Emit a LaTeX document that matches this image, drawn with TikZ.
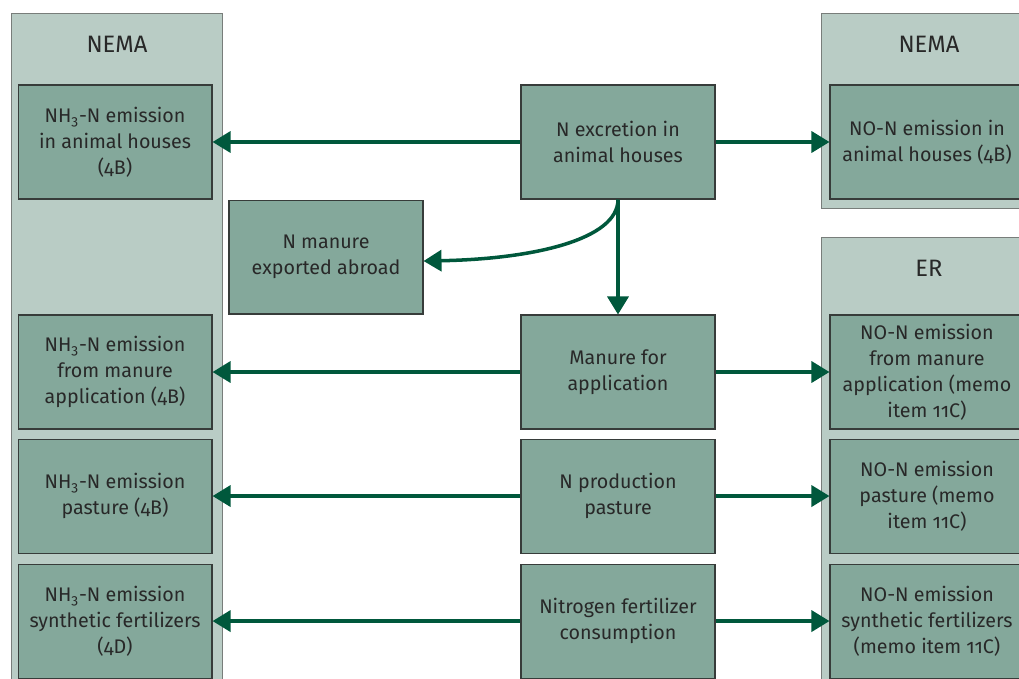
\documentclass[tikz,border=0pt]{standalone}
\usepackage{fontspec}
\setmainfont[Numbers=OldStyle]{Fira Sans}
\usepackage{tikz}
\usetikzlibrary{
  arrows.meta,
  positioning, backgrounds
}
\definecolor{panelfill}{RGB}{185,204,197}
\definecolor{panelline}{RGB}{120,125,122}
\definecolor{boxfill}{RGB}{132,168,155}
\definecolor{boxline}{RGB}{55,60,58}
\definecolor{arrgreen}{RGB}{0,88,60}
\definecolor{txtgrey}{RGB}{40,40,40}
\tikzset{
  boxnode/.style={rectangle,fill=boxfill,draw=boxline,line width=0.6pt,
    minimum width=3.88cm,minimum height=2.28cm,inner sep=0pt,align=center,
    text=txtgrey,font=\fontsize{11.2}{14.8}\selectfont},
  panelnode/.style={rectangle,fill=panelfill,draw=panelline,line width=0.6pt,inner sep=0pt},
  panellabel/.style={anchor=center,yshift=-0.62cm,text=txtgrey,font=\fontsize{13.5}{16}\selectfont},
  arr/.style={-{Triangle[length=0.36cm,width=0.42cm]},line width=2pt,draw=arrgreen}
}

\begin{document}
\begin{tikzpicture}[x=0.02cm,y=-0.02cm]

  \clip (0,0) rectangle (1019,679);
  \useasboundingbox (0,0) rectangle (1019,679);

  % Source column
  \node[boxnode] (excr) at (618,142) {N excretion in\\animal houses};
  \node[boxnode,below left=0cm and 1.94cm of excr] (exported) {N manure\\exported abroad};
  \node[boxnode,below=2.3cm of excr] (manapp) {Manure for\\application};
  \node[boxnode,below=0.18cm of manapp] (npast) {N production\\pasture};
  \node[boxnode,below=0.2cm of npast] (nfert) {Nitrogen fertilizer\\consumption};

  % NEMA (left)
  \node[boxnode,left=6.16cm of excr] (nhhouse) {NH\textsubscript{3}-N emission\\in animal houses\\(4B)};
  \node[boxnode,left=6.16cm of manapp] (nhmanure) {NH\textsubscript{3}-N emission\\from manure\\application (4B)};
  \node[boxnode,left=6.16cm of npast] (nhpast) {NH\textsubscript{3}-N emission\\pasture (4B)};
  \node[boxnode,left=6.16cm of nfert] (nhfert) {NH\textsubscript{3}-N emission\\synthetic fertilizers\\(4D)};

  % NEMA and ER (right)
  \node[boxnode,right=2.28cm of excr] (nohouse) {NO-N emission in\\animal houses (4B)};
  \node[boxnode,right=2.28cm of manapp] (nomanure) {NO-N emission\\from manure\\application (memo\\item 11C)};
  \node[boxnode,right=2.28cm of npast] (nopast) {NO-N emission\\pasture (memo\\item 11C)};
  \node[boxnode,right=2.28cm of nfert] (nofert) {NO-N emission\\synthetic fertilizers\\(memo item 11C)};

  \begin{scope}[on background layer]
    \node[panelnode,minimum width=4.22cm,minimum height=13.6cm,anchor=north west,
      label={[panellabel]north:NEMA}] (nemaL) at (11,13) {};
    \node[panelnode,minimum width=4.3cm,minimum height=3.9cm,anchor=north west,
      label={[panellabel]north:NEMA}] (nemaR) at (821,13) {};
    \node[panelnode,minimum width=4.3cm,minimum height=9.2cm,anchor=north west,
      label={[panellabel]north:ER}] (erR) at (821,237) {};
  \end{scope}

  % arrows
  \draw[arr] (excr.west) -- (nhhouse.east);
  \draw[arr] (excr.east) -- (nohouse.west);
  \draw[arr] (excr.south) .. controls +(0,40) and +(110,-2) .. ([yshift=-0.08cm]exported.east);
  \draw[arr] (excr) -- (manapp);
  \draw[arr] (manapp.west) -- (nhmanure.east);
  \draw[arr] (manapp.east) -- (nomanure.west);
  \draw[arr] (npast.west) -- (nhpast.east);
  \draw[arr] (npast.east) -- (nopast.west);
  \draw[arr] (nfert.west) -- (nhfert.east);
  \draw[arr] (nfert.east) -- (nofert.west);

\end{tikzpicture}
\end{document}
